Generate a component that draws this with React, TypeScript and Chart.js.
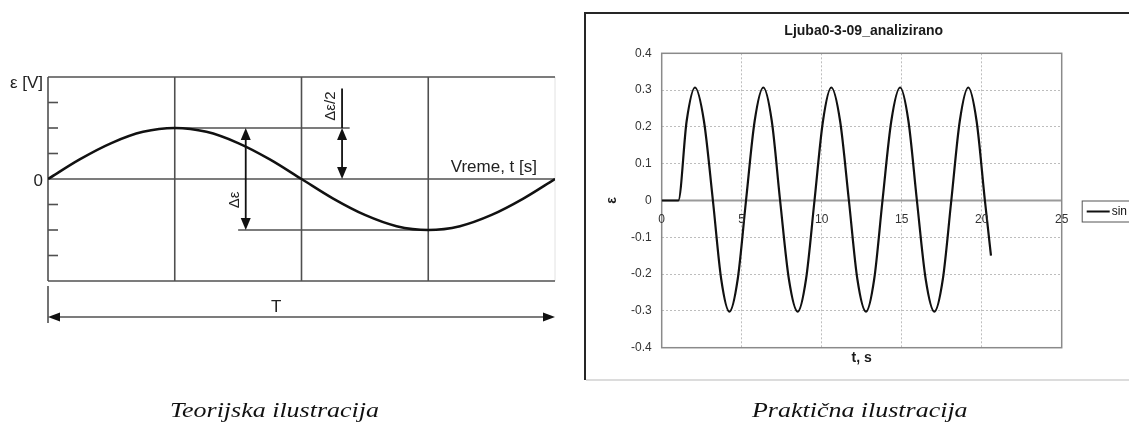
import React, { useEffect, useRef } from 'react';
import { Chart, registerables } from 'chart.js';

Chart.register(...registerables);
Chart.defaults.font.family = "'Liberation Sans', Arial, sans-serif";

// ---------- Left panel: theoretical illustration (phase in quarters of T, ε in grid units)
const theoryPhase = [0, 0.25, 0.5, 0.75, 1, 1.25, 1.5, 1.75, 2, 2.25, 2.5, 2.75, 3, 3.25, 3.5, 3.75, 4];
const theoryEps = [0, 0.77, 1.41, 1.85, 2, 1.85, 1.41, 0.77, 0, -0.77, -1.41, -1.85, -2, -1.85, -1.41, -0.77, 0];
const theoryGridX = [1, 2, 3];
const theoryTickY = [-3, -2, -1, 1, 2, 3];
const theoryYLabel = 'ε [V]';
const theoryZeroLabel = '0';
const theoryXLabel = 'Vreme, t [s]';
const ampLabel = 'Δε';
const halfAmpLabel = 'Δε/2';
const periodLabel = 'T';

// ---------- Right panel: measured signal
const measuredT = [0, 1.04, 1.56, 2.08, 2.64, 3.2, 3.72, 4.23, 4.75, 5.27, 5.81, 6.35, 6.88, 7.4, 7.95, 8.5, 9.02, 9.55, 10.08, 10.6, 11.15, 11.7, 12.23, 12.77, 13.28, 13.8, 14.35, 14.9, 15.42, 15.95, 16.5, 17.04, 17.57, 18.1, 18.63, 19.16, 19.68, 20.2, 20.58];
const measuredEps = [0, 0, 0.216, 0.307, 0.216, 0, -0.214, -0.302, -0.214, 0, 0.216, 0.307, 0.216, 0, -0.214, -0.302, -0.214, 0, 0.216, 0.307, 0.216, 0, -0.214, -0.302, -0.214, 0, 0.216, 0.307, 0.216, 0, -0.214, -0.302, -0.214, 0, 0.216, 0.307, 0.216, 0, -0.15];
const measuredTitle = 'Ljuba0-3-09_analizirano';
const measuredXTitle = 't, s';
const measuredYTitle = 'ε';
const seriesName = 'sin';

const captionLeft = 'Teorijska ilustracija';
const captionRight = 'Praktična ilustracija';

function seg(ctx: CanvasRenderingContext2D, x1: number, y1: number, x2: number, y2: number) {
  ctx.beginPath();
  ctx.moveTo(x1, y1);
  ctx.lineTo(x2, y2);
  ctx.stroke();
}

function head(ctx: CanvasRenderingContext2D, x: number, y: number, dx: number, dy: number, len = 12, w = 5) {
  const bx = x - dx * len;
  const by = y - dy * len;
  ctx.beginPath();
  ctx.moveTo(x, y);
  ctx.lineTo(bx - dy * w, by + dx * w);
  ctx.lineTo(bx + dy * w, by - dx * w);
  ctx.closePath();
  ctx.fill();
}

function caption(ctx: CanvasRenderingContext2D, text: string, x: number, y: number) {
  ctx.save();
  ctx.fillStyle = '#111';
  ctx.textAlign = 'left';
  ctx.textBaseline = 'alphabetic';
  ctx.font = "italic 22px 'Liberation Serif', 'Times New Roman', serif";
  ctx.translate(x, y);
  ctx.scale(1.18, 1);
  ctx.fillText(text, 0, 0);
  ctx.restore();
}

const theoryPlugin = {
  id: 'theoryDecor',
  beforeDatasetsDraw(chart: any) {
    const { ctx, chartArea: a, scales } = chart;
    const X = (v: number) => scales.x.getPixelForValue(v);
    const Y = (v: number) => scales.y.getPixelForValue(v);
    ctx.save();
    ctx.strokeStyle = '#e2e2e2';
    ctx.lineWidth = 1;
    seg(ctx, a.right, a.top, a.right, a.bottom);
    ctx.strokeStyle = '#505050';
    ctx.lineWidth = 1.6;
    seg(ctx, a.left, a.top, a.right, a.top);
    seg(ctx, a.left, a.bottom, a.right, a.bottom);
    seg(ctx, a.left, a.top, a.left, a.bottom);
    theoryGridX.forEach((g) => seg(ctx, X(g), a.top, X(g), a.bottom));
    seg(ctx, a.left, Y(0), a.right, Y(0));
    theoryTickY.forEach((t) => seg(ctx, a.left, Y(t), a.left + 10, Y(t)));
    // reference levels of the peak and trough
    seg(ctx, X(1), Y(2), X(2.38), Y(2));
    seg(ctx, X(1.5), Y(-2), X(3), Y(-2));
    ctx.restore();
  },
  afterDatasetsDraw(chart: any) {
    const { ctx, chartArea: a, scales } = chart;
    const X = (v: number) => scales.x.getPixelForValue(v);
    const Y = (v: number) => scales.y.getPixelForValue(v);
    ctx.save();
    ctx.strokeStyle = '#111';
    ctx.fillStyle = '#111';
    ctx.lineWidth = 1.8;
    // Δε arrow
    const ax = X(1.56);
    seg(ctx, ax, Y(2) + 6, ax, Y(-2) - 6);
    head(ctx, ax, Y(2), 0, -1);
    head(ctx, ax, Y(-2), 0, 1);
    // Δε/2 arrow
    const hx = X(2.32);
    seg(ctx, hx, Y(3.55), hx, Y(2));
    seg(ctx, hx, Y(2) + 6, hx, Y(0) - 6);
    head(ctx, hx, Y(2), 0, -1);
    head(ctx, hx, Y(0), 0, 1);
    // rotated labels
    ctx.fillStyle = '#222';
    ctx.font = "15px 'Liberation Sans', Arial, sans-serif";
    ctx.textAlign = 'center';
    ctx.textBaseline = 'middle';
    ctx.save();
    ctx.translate(ax - 11, Y(-0.82));
    ctx.rotate(-Math.PI / 2);
    ctx.fillText(ampLabel, 0, 0);
    ctx.restore();
    ctx.save();
    ctx.translate(hx - 11, Y(2.86));
    ctx.rotate(-Math.PI / 2);
    ctx.fillText(halfAmpLabel, 0, 0);
    ctx.restore();
    // axis texts
    ctx.font = "17px 'Liberation Sans', Arial, sans-serif";
    ctx.textAlign = 'right';
    ctx.textBaseline = 'alphabetic';
    ctx.fillText(theoryXLabel, a.right - 18, Y(0) - 7);
    ctx.fillText(theoryYLabel, a.left - 5, a.top + 11);
    ctx.textBaseline = 'middle';
    ctx.fillText(theoryZeroLabel, a.left - 5, Y(0) + 2);
    // period dimension
    ctx.strokeStyle = '#505050';
    ctx.fillStyle = '#111';
    ctx.lineWidth = 1.6;
    seg(ctx, a.left, a.bottom + 5, a.left, a.bottom + 42);
    const py = a.bottom + 36;
    seg(ctx, a.left + 8, py, a.right - 8, py);
    head(ctx, a.left, py, -1, 0, 12, 4.5);
    head(ctx, a.right, py, 1, 0, 12, 4.5);
    ctx.fillStyle = '#222';
    ctx.textAlign = 'center';
    ctx.textBaseline = 'alphabetic';
    ctx.fillText(periodLabel, X(1.8), py - 5);
    ctx.restore();
    caption(ctx, captionLeft, 170, 417);
  },
};

const measuredPlugin = {
  id: 'measuredDecor',
  beforeDraw(chart: any) {
    const { ctx, chartArea: a, width, height } = chart;
    ctx.save();
    ctx.fillStyle = '#fff';
    ctx.fillRect(0, 0, width, height);
    ctx.strokeStyle = '#262626';
    ctx.lineWidth = 2;
    seg(ctx, 15, 13, width, 13);
    seg(ctx, 15, 12, 15, 380);
    ctx.strokeStyle = '#d0d0d0';
    ctx.lineWidth = 1.5;
    seg(ctx, 16, 380, width, 380);
    ctx.fillStyle = '#1a1a1a';
    ctx.font = "bold 14px 'Liberation Sans', Arial, sans-serif";
    ctx.textAlign = 'center';
    ctx.textBaseline = 'middle';
    ctx.fillText(measuredTitle, (a.left + a.right) / 2 + 2, 31);
    ctx.restore();
  },
  beforeDatasetsDraw(chart: any) {
    const { ctx, chartArea: a, scales } = chart;
    const Y = (v: number) => scales.y.getPixelForValue(v);
    ctx.save();
    ctx.strokeStyle = '#9a9a9a';
    ctx.lineWidth = 2;
    seg(ctx, a.left, Y(0), a.right, Y(0));
    ctx.strokeStyle = '#8a8a8a';
    ctx.lineWidth = 1.5;
    ctx.strokeRect(a.left, a.top, a.right - a.left, a.bottom - a.top);
    ctx.restore();
  },
  afterDraw(chart: any) {
    const { ctx, chartArea: a, scales } = chart;
    const X = (v: number) => scales.x.getPixelForValue(v);
    const Y = (v: number) => scales.y.getPixelForValue(v);
    ctx.save();
    ctx.fillStyle = '#333';
    ctx.font = "12px 'Liberation Sans', Arial, sans-serif";
    ctx.textAlign = 'center';
    ctx.textBaseline = 'middle';
    scales.x.ticks.forEach((t: any) => ctx.fillText(String(t.value), X(t.value), Y(0) + 19));
    // legend
    ctx.strokeStyle = '#555';
    ctx.lineWidth = 1;
    ctx.strokeRect(a.right + 20.5, Y(0) + 0.5, 120, 21);
    ctx.strokeStyle = '#111';
    ctx.lineWidth = 2;
    seg(ctx, a.right + 25, Y(0) + 11, a.right + 48, Y(0) + 11);
    ctx.fillStyle = '#111';
    ctx.textAlign = 'left';
    ctx.fillText(seriesName, a.right + 50, Y(0) + 11);
    ctx.restore();
    caption(ctx, captionRight, 182, 417);
  },
};

export default function App() {
  const leftRef = useRef<HTMLCanvasElement>(null);
  const rightRef = useRef<HTMLCanvasElement>(null);

  useEffect(() => {
    const left = new Chart(leftRef.current as HTMLCanvasElement, {
      type: 'line',
      data: {
        datasets: [
          {
            data: theoryPhase.map((t, i) => ({ x: t, y: theoryEps[i] })),
            borderColor: '#111',
            borderWidth: 2.5,
            pointRadius: 0,
            fill: false,
            cubicInterpolationMode: 'monotone',
          },
        ],
      },
      options: {
        responsive: false,
        animation: false,
        events: [],
        layout: { padding: { left: 48, top: 77, right: 15, bottom: 143 } },
        scales: {
          x: { type: 'linear', min: 0, max: 4, display: false },
          y: { type: 'linear', min: -4, max: 4, display: false },
        },
        plugins: { legend: { display: false }, tooltip: { enabled: false } },
      },
      plugins: [theoryPlugin],
    } as any);

    const gridColor = (edge: number[]) => (c: any) =>
      c.tick && edge.some((e) => Math.abs(c.tick.value - e) < 1e-9) ? 'rgba(0,0,0,0)' : '#bdbdbd';

    const right = new Chart(rightRef.current as HTMLCanvasElement, {
      type: 'line',
      data: {
        datasets: [
          {
            label: seriesName,
            data: measuredT.map((t, i) => ({ x: t, y: measuredEps[i] })),
            borderColor: '#111',
            borderWidth: 2.2,
            pointRadius: 0,
            fill: false,
            cubicInterpolationMode: 'monotone',
          },
        ],
      },
      options: {
        responsive: false,
        animation: false,
        events: [],
        layout: { padding: { left: 0, top: 53.3, right: 67.3, bottom: 0 } },
        scales: {
          x: {
            type: 'linear',
            min: 0,
            max: 25,
            ticks: { stepSize: 5, display: false },
            grid: { color: gridColor([0, 25]), lineWidth: 1, drawTicks: false },
            border: { display: false, dash: [2, 2] },
            title: {
              display: true,
              text: measuredXTitle,
              color: '#1a1a1a',
              font: { size: 14, weight: 'bold' },
              padding: { top: 0, bottom: 57.6 },
            },
            afterFit: (s: any) => {
              s.height = 76.3;
            },
          },
          y: {
            type: 'linear',
            min: -0.4,
            max: 0.4,
            ticks: {
              stepSize: 0.1,
              padding: 10,
              color: '#333',
              font: { size: 12 },
              callback: (v: any) => (Math.abs(Number(v)) < 1e-9 ? '0' : Number(v).toFixed(1)),
            },
            grid: { color: gridColor([0, -0.4, 0.4]), lineWidth: 1, drawTicks: false },
            border: { display: false, dash: [2, 2] },
            title: {
              display: true,
              text: measuredYTitle,
              color: '#1a1a1a',
              font: { size: 14, weight: 'bold' },
              padding: { top: 33.3, bottom: 0 },
            },
            afterFit: (s: any) => {
              s.width = 91.7;
            },
          },
        },
        plugins: { legend: { display: false }, tooltip: { enabled: false }, title: { display: false } },
      },
      plugins: [measuredPlugin],
    } as any);

    return () => {
      left.destroy();
      right.destroy();
    };
  }, []);

  return (
    <div
      style={{
        position: 'absolute',
        left: 0,
        top: 0,
        width: 1129,
        height: 424,
        overflow: 'hidden',
        background: '#fff',
      }}
    >
      <canvas
        ref={leftRef}
        width={570}
        height={424}
        style={{ position: 'absolute', left: 0, top: 0, width: 570, height: 424 }}
      />
      <canvas
        ref={rightRef}
        width={559}
        height={424}
        style={{ position: 'absolute', left: 570, top: 0, width: 559, height: 424 }}
      />
    </div>
  );
}
